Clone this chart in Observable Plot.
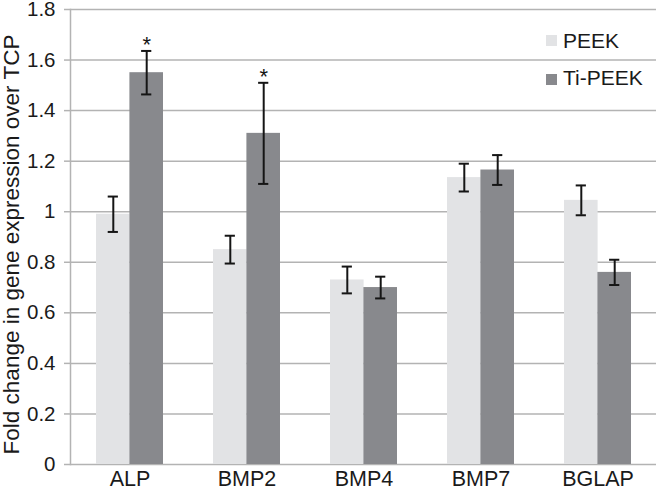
<!DOCTYPE html>
<html><head><meta charset="utf-8">
<script src="https://cdn.jsdelivr.net/npm/d3@7"></script>
<script src="https://cdn.jsdelivr.net/npm/@observablehq/plot@0.6"></script>
<style>
body{margin:0;background:#fff;}
#wrap{position:relative;width:656px;height:490px;font-family:"Liberation Sans",Arial,sans-serif;}
#wrap svg{display:block;}
.leg{position:absolute;left:546px;font-size:21px;line-height:21px;color:#1a1a1a;white-space:nowrap;}
.leg span.sw{position:absolute;left:0;width:11px;height:11px;}
.leg span.tx{position:absolute;left:17px;top:0;}
</style></head><body><div id="wrap"></div>
<script>
const genes = ["ALP", "BMP2", "BMP4", "BMP7", "BGLAP"];
const series = ["PEEK", "Ti-PEEK"];
const peek = [0.99, 0.85, 0.73, 1.135, 1.045];
const peekErr = [0.07, 0.055, 0.053, 0.055, 0.059];
const tiPeek = [1.55, 1.31, 0.70, 1.165, 0.76];
const tiPeekErr = [0.086, 0.2, 0.043, 0.059, 0.05];
const significance = ["*", "*", "", "", ""];
const yTicks = [0, 0.2, 0.4, 0.6, 0.8, 1, 1.2, 1.4, 1.6, 1.8];
const yTickLabels = ["0", "0.2", "0.4", "0.6", "0.8", "1", "1.2", "1.4", "1.6", "1.8"];
const yLabel = "Fold change in gene expression over TCP";
const colors = ["#e2e3e5", "#88898d"];

const W = 656, H = 490, mL = 70, mR = 0, mT = 9, mB = 26;
const pI = 0.43, pO = 0.215;
const step = (W - mL - mR) / (genes.length - pI + 2 * pO);
const bw = step * (1 - pI);
const capHalf = 5;
const gridColor = "#b3b3b3";

const rows = genes.map((g, i) => ({gene: g, peek: peek[i], peekErr: peekErr[i], ti: tiPeek[i], tiErr: tiPeekErr[i], sig: significance[i]}));
const errStyle = {stroke: "#151515", strokeWidth: 2};
const fmt = d => yTickLabels[yTicks.findIndex(t => Math.abs(t - d) < 1e-9)];

const chart = Plot.plot({
  width: W, height: H, marginLeft: mL, marginRight: mR, marginTop: mT, marginBottom: mB,
  style: {fontFamily: '"Liberation Sans", Arial, sans-serif', fontSize: "21px", color: "#1a1a1a", background: "#fff", overflow: "visible"},
  x: {domain: genes, paddingInner: pI, paddingOuter: pO, align: 0.5},
  y: {domain: [0, 1.8]},
  marks: [
    Plot.ruleY(yTicks, {stroke: gridColor, strokeWidth: 1.5}),
    Plot.frame({anchor: "left", stroke: gridColor, strokeWidth: 1.5}),
    Plot.barY(rows, {x: "gene", y: "peek", fill: colors[0], insetRight: bw / 2}),
    Plot.barY(rows, {x: "gene", y: "ti", fill: colors[1], insetLeft: bw / 2}),
    Plot.ruleX(rows, {x: "gene", y1: d => d.peek - d.peekErr, y2: d => d.peek + d.peekErr, dx: -bw / 4, ...errStyle}),
    Plot.ruleX(rows, {x: "gene", y1: d => d.ti - d.tiErr, y2: d => d.ti + d.tiErr, dx: bw / 4, ...errStyle}),
    Plot.tickY(rows, {x: "gene", y: d => d.peek + d.peekErr, insetLeft: bw / 4 - capHalf, insetRight: 3 * bw / 4 - capHalf, ...errStyle}),
    Plot.tickY(rows, {x: "gene", y: d => d.peek - d.peekErr, insetLeft: bw / 4 - capHalf, insetRight: 3 * bw / 4 - capHalf, ...errStyle}),
    Plot.tickY(rows, {x: "gene", y: d => d.ti + d.tiErr, insetLeft: 3 * bw / 4 - capHalf, insetRight: bw / 4 - capHalf, ...errStyle}),
    Plot.tickY(rows, {x: "gene", y: d => d.ti - d.tiErr, insetLeft: 3 * bw / 4 - capHalf, insetRight: bw / 4 - capHalf, ...errStyle}),
    Plot.text(rows.filter(d => d.sig), {x: "gene", y: d => d.ti + d.tiErr, text: "sig", dx: bw / 4, dy: 1, lineAnchor: "bottom", fontSize: 22, fill: "#151515"}),
    Plot.axisX({tickSize: 0, tickPadding: 6, fontSize: 21.5, label: null}),
    Plot.axisY({ticks: yTicks, tickFormat: fmt, tickSize: 6, tickPadding: 9, fontSize: 20.5, stroke: gridColor, strokeWidth: 1.5, label: null}),
    Plot.text([yLabel], {text: d => d, frameAnchor: "left", textAnchor: "middle", rotate: -90, lineAnchor: "top", dx: -67, dy: 7.5, fontSize: 22.5, fill: "#1a1a1a"})
  ]
});
const wrap = document.getElementById("wrap");
wrap.appendChild(chart);
const legTops = [30, 67];
series.forEach((s, i) => {
  const d = document.createElement("div");
  d.className = "leg";
  d.style.top = legTops[i] + "px";
  d.innerHTML = `<span class="sw" style="background:${colors[i]};top:${i === 0 ? 5 : 7}px"></span><span class="tx">${s}</span>`;
  wrap.appendChild(d);
});
</script></body></html>
